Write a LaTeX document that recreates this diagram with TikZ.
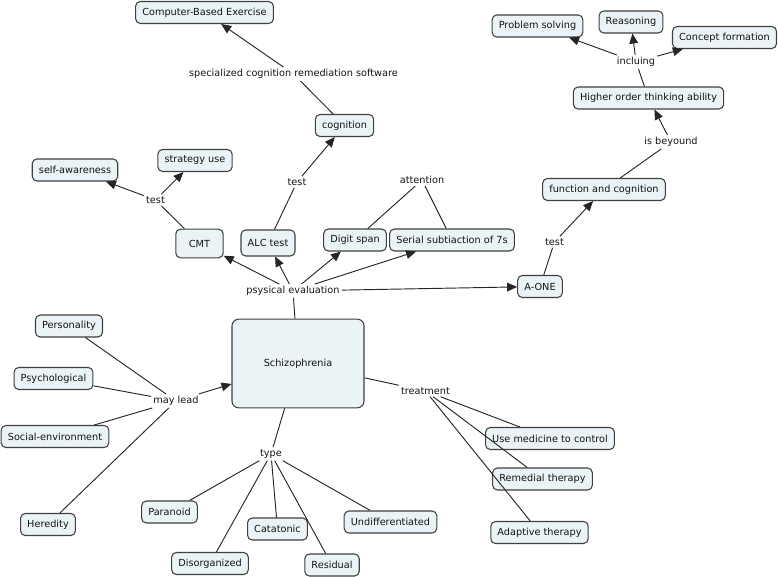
\documentclass[tikz,border=0pt]{standalone}
\usepackage{fontspec}
\setmainfont{DejaVu Sans}
\usetikzlibrary{arrows.meta}
\definecolor{nodefill}{HTML}{EAF3F6}
\definecolor{nodeline}{HTML}{404040}
\definecolor{txt}{HTML}{141414}
\tikzset{
  concept/.style={draw=nodeline, fill=nodefill, rounded corners=3.5pt, line width=0.8pt,
    inner xsep=5pt, inner ysep=0pt, minimum height=16.5pt, text=txt,
    font=\fontsize{7.3pt}{8.7pt}\selectfont},
  link/.style={inner sep=1.5pt, text=txt, font=\fontsize{7.3pt}{8.7pt}\selectfont},
  conn/.style={draw=black!85, line width=0.7pt},
  arr/.style={conn, -{Triangle[length=7.5pt,width=6.5pt]}}
}
\begin{document}
\begin{tikzpicture}[x=0.75pt,y=-0.75pt]
\useasboundingbox (0,0) rectangle (778,577);
% linking phrases
\node[link] (spec) at (293.5,74) {specialized cognition remediation software};
\node[link] (testcmt) at (155.5,200) {test};
\node[link] (testalc) at (297,182) {test};
\node[link] (attn) at (422,180) {attention};
\node[link] (psy) at (293,291) {psysical evaluation};
\node[link] (testa) at (554.5,242) {test};
\node[link] (beyond) at (671,142) {is beyound};
\node[link] (incl) at (636,62) {incluing};
\node[link] (may) at (176,401) {may lead};
\node[link] (type) at (271,454) {type};
\node[link] (treat) at (425.5,391) {treatment};
% concepts
\node[concept] (cbe) at (204.5,12.5) {Computer-Based Exercise};
\node[concept] (cog) at (344.5,125.5) {cognition};
\node[concept] (strat) at (195,160.5) {strategy use};
\node[concept] (self) at (75,170) {self-awareness};
\node[concept, minimum width=35.5pt, minimum height=21.5pt] (cmt) at (199.5,243.5) {CMT};
\node[concept, minimum height=19.5pt] (alc) at (268,243) {ALC test};
\node[concept] (digit) at (355,240) {Digit span};
\node[concept] (serial) at (452,240) {Serial subtiaction of 7s};
\node[concept] (aone) at (540,286.5) {A-ONE};
\node[concept] (func) at (604,189.5) {function and cognition};
\node[concept] (hota) at (648.5,98) {Higher order thinking ability};
\node[concept] (prob) at (537.5,26) {Problem solving};
\node[concept] (reas) at (631,22) {Reasoning};
\node[concept] (conc) at (724.5,37.5) {Concept formation};
\node[concept, minimum width=99pt, minimum height=66.5pt, rounded corners=5pt] (sch) at (298,363.5) {Schizophrenia};
\node[concept] (pers) at (69,326) {Personality};
\node[concept] (psych) at (53.5,378.5) {Psychological};
\node[concept] (soc) at (55,436.5) {Social-environment};
\node[concept] (her) at (48,524.5) {Heredity};
\node[concept] (para) at (169.5,512) {Paranoid};
\node[concept] (cata) at (277.5,529) {Catatonic};
\node[concept] (dis) at (210,563.5) {Disorganized};
\node[concept] (res) at (332,565) {Residual};
\node[concept] (undiff) at (390.5,522) {Undifferentiated};
\node[concept] (med) at (550,438.5) {Use medicine to control};
\node[concept] (rem) at (542.5,479) {Remedial therapy};
\node[concept] (adap) at (539.5,532.5) {Adaptive therapy};
% connectors
\draw[conn] (cog) -- (spec);
\draw[arr] (spec) -- (cbe);
\draw[conn] (alc) -- (testalc);
\draw[arr] (testalc) -- (cog);
\draw[conn] (cmt) -- (testcmt);
\draw[arr] (testcmt) -- (self);
\draw[arr] (testcmt) -- (strat);
\draw[conn] (sch) -- (psy);
\draw[arr] (psy) -- (cmt);
\draw[arr] (psy) -- (alc);
\draw[arr] (psy) -- (digit);
\draw[arr] (psy) -- (serial);
\draw[arr] (psy) -- (aone);
\draw[conn] (attn) -- (digit);
\draw[conn] (attn) -- (serial);
\draw[conn] (aone) -- (testa);
\draw[arr] (testa) -- (func);
\draw[conn] (func) -- (beyond);
\draw[arr] (beyond) -- (hota);
\draw[conn] (hota) -- (incl);
\draw[arr] (incl) -- (prob);
\draw[arr] (incl) -- (reas);
\draw[arr] (incl) -- (conc);
\draw[conn] (pers) -- (may);
\draw[conn] (psych) -- (may);
\draw[conn] (soc) -- (may);
\draw[conn] (her) -- (may);
\draw[arr] (may) -- (sch);
\draw[conn] (sch) -- (type);
\draw[conn] (type) -- (para);
\draw[conn] (type) -- (dis);
\draw[conn] (type) -- (cata);
\draw[conn] (type) -- (res);
\draw[conn] (type) -- (undiff);
\draw[conn] (sch) -- (treat);
\draw[conn] (treat) -- (med);
\draw[conn] (treat) -- (rem);
\draw[conn] (treat) -- (adap);
\end{tikzpicture}
\end{document}
